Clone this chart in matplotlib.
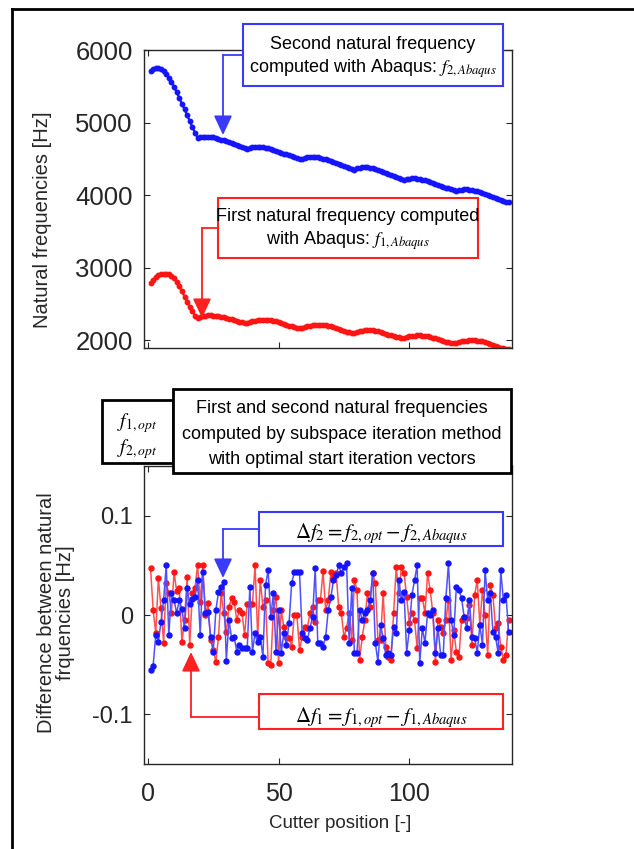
import numpy as np
import matplotlib
matplotlib.use('Agg')
import matplotlib.pyplot as plt
from matplotlib.patches import Rectangle, FancyArrowPatch
from matplotlib.lines import Line2D

plt.rcParams['font.family'] = ['Liberation Sans', 'DejaVu Sans']
plt.rcParams['mathtext.fontset'] = 'stix'
plt.rcParams['axes.unicode_minus'] = False

# ---------------- data ----------------
f2_abaqus = [
    5715, 5735, 5745, 5745, 5735, 5710, 5670, 5620, 5560, 5490,
    5420, 5340, 5260, 5180, 5100, 5020, 4940, 4860, 4790,
    4795, 4800, 4805, 4805, 4800, 4795, 4785, 4775, 4765, 4755,
    4740, 4728, 4715, 4700, 4690, 4675, 4660, 4648, 4635,
    4645, 4658, 4665, 4668, 4666, 4660, 4652, 4643, 4633, 4622,
    4610, 4598, 4585, 4572, 4560, 4548, 4535, 4522, 4510, 4500, 4490,
    4510, 4522, 4528, 4530, 4526, 4520, 4512, 4502, 4490, 4478,
    4465, 4452, 4440, 4427, 4414, 4400, 4388, 4375, 4362, 4350,
    4368, 4378, 4383, 4384, 4380, 4374, 4366, 4356, 4345, 4333,
    4320, 4307, 4293, 4280, 4266, 4252, 4238, 4224, 4205,
    4218, 4226, 4230, 4230, 4227, 4221, 4213, 4203, 4192, 4180,
    4168, 4155, 4142, 4129, 4116, 4103, 4090, 4077, 4065, 4055,
    4068, 4075, 4078, 4078, 4075, 4070, 4062, 4053, 4043, 4032,
    4020, 4007, 3993, 3979, 3964, 3950, 3936, 3922, 3910, 3900,
]
f1_abaqus = [
    2790, 2830, 2865, 2890, 2905, 2912, 2914, 2905, 2885, 2850,
    2800, 2740, 2670, 2600, 2530, 2460, 2395, 2335, 2300,
    2318, 2330, 2337, 2340, 2340, 2338, 2335, 2330, 2323, 2315,
    2305, 2295, 2285, 2274, 2262, 2252, 2243, 2236, 2230,
    2245, 2256, 2264, 2270, 2274, 2276, 2276, 2274, 2270, 2264,
    2256, 2246, 2235, 2223, 2211, 2199, 2188, 2178, 2170, 2164, 2160,
    2175, 2188, 2198, 2205, 2210, 2212, 2212, 2209, 2204, 2197,
    2188, 2177, 2165, 2153, 2140, 2128, 2117, 2107, 2099, 2093,
    2108, 2120, 2128, 2133, 2135, 2135, 2132, 2127, 2120, 2111,
    2100, 2088, 2076, 2064, 2053, 2043, 2035, 2029, 2025,
    2038, 2049, 2057, 2062, 2064, 2064, 2062, 2058, 2052, 2044,
    2034, 2022, 2010, 1998, 1987, 1977, 1969, 1962, 1957, 1955,
    1968, 1980, 1988, 1993, 1996, 1997, 1996, 1993, 1988, 1981,
    1972, 1961, 1949, 1936, 1922, 1908, 1895, 1885, 1878, 1872,
]
delta_f1 = [
    0.047, 0.005, -0.018, 0.037, 0.007, -0.028, 0.032, 0.022, 0.002, 0.043,
    0.024, 0.027, -0.027, -0.005, 0.038, -0.030, 0.022, 0.027, 0.050, 0.013,
    0.050, 0.000, 0.012, -0.025, -0.035, -0.047, -0.022, 0.022, 0.002, -0.017,
    0.008, 0.017, 0.013, -0.005, 0.005, 0.002, -0.020, 0.011, 0.011, 0.011,
    0.050, -0.022, 0.035, 0.008, 0.015, -0.048, -0.050, 0.005, 0.018, -0.048,
    0.005, -0.012, -0.022, -0.023, -0.032, 0.000, 0.000, -0.035, -0.022, -0.012,
    -0.013, 0.002, 0.008, -0.007, 0.015, 0.015, 0.044, 0.005, 0.015, 0.043,
    0.037, 0.042, 0.008, 0.002, -0.022, -0.013, 0.002, -0.025, 0.035, 0.025,
    -0.045, -0.022, -0.005, 0.022, 0.008, 0.042, 0.032, -0.025, -0.025, 0.022,
    -0.032, -0.042, -0.045, 0.002, 0.048, 0.022, 0.048, 0.042, 0.018, -0.008,
    0.002, -0.005, -0.033, 0.017, 0.017, 0.002, 0.042, 0.025, 0.002, -0.047,
    -0.005, -0.012, -0.018, -0.005, 0.015, -0.045, -0.015, -0.037, -0.042, -0.005,
    -0.002, -0.003, 0.010, -0.030, 0.020, 0.035, -0.010, 0.025, 0.000, -0.040,
    0.030, 0.020, -0.013, -0.008, -0.032, -0.045, -0.040, -0.005,
]
delta_f2 = [
    -0.055, -0.051, -0.020, -0.027, -0.007, 0.015, 0.050, -0.020, 0.022, 0.015,
    0.002, 0.015, 0.006, -0.013, 0.027, 0.011, 0.016, 0.018, 0.035, -0.020,
    0.043, 0.002, 0.003, -0.022, -0.037, 0.005, 0.023, 0.028, 0.033, -0.046,
    -0.005, -0.023, -0.022, -0.037, -0.030, -0.033, -0.033, -0.033, 0.028, -0.037,
    -0.018, -0.027, -0.022, -0.042, 0.030, 0.045, -0.002, 0.022, -0.037, 0.005,
    -0.038, -0.018, -0.030, -0.008, 0.032, 0.043, 0.043, 0.043, -0.018, -0.023,
    -0.025, -0.013, -0.002, 0.047, -0.028, -0.028, -0.032, -0.022, 0.005, 0.018,
    0.035, 0.040, 0.050, 0.042, 0.048, 0.052, -0.028, 0.027, -0.038, -0.038,
    0.005, -0.005, 0.002, 0.005, 0.015, 0.042, -0.028, -0.047, -0.010, -0.023,
    -0.040, -0.038, -0.040, -0.012, -0.018, 0.035, 0.015, 0.023, -0.038, -0.015,
    0.020, 0.035, 0.050, -0.048, -0.013, -0.028, 0.002, 0.000, 0.005, -0.038,
    -0.013, -0.040, -0.040, 0.017, 0.052, -0.005, -0.020, 0.028, 0.025, 0.017,
    -0.002, -0.013, 0.015, -0.022, -0.023, -0.038, -0.010, -0.030, 0.045, 0.015,
    0.022, -0.017, -0.022, -0.038, 0.045, 0.015, 0.020, -0.017,
]
x_ticks = [0, 50, 100]
top_yticks = [2000, 3000, 4000, 5000, 6000]
bot_yticks = [-0.1, 0, 0.1]
bot_yticklabels = ['-0.1', '0', '0.1']

# ---------------- figure ----------------
W, H = 634, 849
fig = plt.figure(figsize=(W / 100, H / 100), dpi=100)
fig.patch.set_facecolor('white')

def fx(x):
    return x / W

def fy(y):
    return 1 - y / H

GREY = '#262626'
BLUE = '#1414ff'
RED = '#ff1414'
BLUE_L = '#5050ff'
RED_L = '#ff5050'

ax1 = fig.add_axes([fx(144), fy(348), fx(512) - fx(144), fy(50) - fy(348)])
ax2 = fig.add_axes([fx(144), fy(764), fx(512) - fx(144), fy(466) - fy(764)])

x_top1 = np.arange(1, len(f1_abaqus) + 1)
x_top2 = np.arange(1, len(f2_abaqus) + 1)
ax1.plot(x_top2, f2_abaqus, color=BLUE, lw=1.6, marker='o', ms=3.2, mec=BLUE, mfc=BLUE)
ax1.plot(x_top1, f1_abaqus, color=RED, lw=1.6, marker='o', ms=3.2, mec=RED, mfc=RED)
ax1.set_xlim(-1.5, 139.3)
ax1.set_ylim(1890, 6000)
ax1.set_xticks(x_ticks)
ax1.set_yticks(top_yticks)
ax1.tick_params(labelbottom=False)

x_b1 = np.arange(1, len(delta_f1) + 1)
x_b2 = np.arange(1, len(delta_f2) + 1)
ax2.plot(x_b1, delta_f1, color=RED_L, lw=1.1, marker='o', ms=3.6, mec=RED, mfc=RED)
ax2.plot(x_b2, delta_f2, color=BLUE_L, lw=1.1, marker='o', ms=3.6, mec=BLUE, mfc=BLUE)
ax2.set_xlim(-1.5, 139.3)
ax2.set_ylim(-0.15, 0.15)
ax2.set_xticks(x_ticks)
ax2.set_yticks(bot_yticks)
ax2.set_yticklabels(bot_yticklabels)

for ax in (ax1, ax2):
    for s in ax.spines.values():
        s.set_color(GREY)
        s.set_linewidth(1.0)
    ax.tick_params(direction='in', length=4, width=0.8, top=True, right=True,
                   color=GREY, labelcolor=GREY)
ax1.tick_params(axis='y', labelsize=18.5, pad=8)
ax2.tick_params(axis='y', labelsize=17, pad=8)
ax2.tick_params(axis='x', labelsize=18, pad=13)

# axis labels
fig.text(fx(43), fy(220), 'Natural frequencies [Hz]', rotation=90, ha='center',
         va='center', fontsize=14.5, color=GREY)
fig.text(fx(56), fy(613), 'Difference between natural\nfrquencies [Hz]', rotation=90,
         ha='center', va='center', fontsize=14.5, color=GREY, linespacing=1.0,
         multialignment='center')
fig.text(fx(340), fy(824), 'Cutter position [-]', ha='center', va='center',
         fontsize=13.5, color=GREY)

# outer frame
fig.add_artist(Line2D([fx(12), fx(12)], [0, fy(9)], color='black', lw=2,
                      transform=fig.transFigure))
fig.add_artist(Line2D([fx(12), 1], [fy(9), fy(9)], color='black', lw=2,
                      transform=fig.transFigure))


def box(x0, y0, x1, y1, ec, lw=1.5):
    fig.add_artist(Rectangle((fx(x0), fy(y1)), fx(x1) - fx(x0), fy(y0) - fy(y1),
                             transform=fig.transFigure, fc='white', ec=ec, lw=lw,
                             zorder=5))


def txt(x, y, s, size=13):
    fig.text(fx(x), fy(y), s, ha='center', va='baseline', fontsize=size,
             color='black', zorder=6)


def elbow(xs, ys, xc, yt, color):
    fig.add_artist(Line2D([fx(xs), fx(xc)], [fy(ys), fy(ys)], color=color, lw=1.3,
                          transform=fig.transFigure, zorder=5))
    fig.add_artist(FancyArrowPatch((fx(xc), fy(ys)), (fx(xc), fy(yt)),
                                   transform=fig.transFigure,
                                   arrowstyle='-|>,head_length=0.85,head_width=0.4',
                                   mutation_scale=14, color=color, lw=1.3,
                                   shrinkA=0, shrinkB=0, zorder=5))


# top annotations
box(243, 24, 503, 86, '#3a3aff')
txt(373, 49, 'Second natural frequency')
txt(373, 73, r'computed with Abaqus: $f_{2,Abaqus}$')
elbow(243, 55, 223, 135, '#3a3aff')

box(218, 198, 478, 258, '#ff2020')
txt(348, 221, 'First natural frequency computed')
txt(348, 245, r'with Abaqus: $f_{1,Abaqus}$')
elbow(218, 228, 202, 318, '#ff2020')

# bottom annotations
box(102, 400, 173, 463, 'black', lw=2)
txt(137, 427, r'$f_{1,opt}$', size=14)
txt(137, 453, r'$f_{2,opt}$', size=14)
box(173, 389, 511, 473, 'black', lw=2)
txt(342, 413, 'First and second natural frequencies')
txt(342, 439, 'computed by subspace iteration method')
txt(342, 464, 'with optimal start iteration vectors')

box(259, 512, 503, 546, '#3a3aff')
txt(381, 538, r'$\Delta f_2 = f_{2,opt} - f_{2,Abaqus}$', size=15)
elbow(259, 529, 223, 578, '#3a3aff')

box(259, 694, 503, 729, '#ff2020')
txt(381, 722, r'$\Delta f_1 = f_{1,opt} - f_{1,Abaqus}$', size=15)
elbow(259, 717, 191, 652, '#ff2020')

fig.savefig('out.png', dpi=100, facecolor='white')
